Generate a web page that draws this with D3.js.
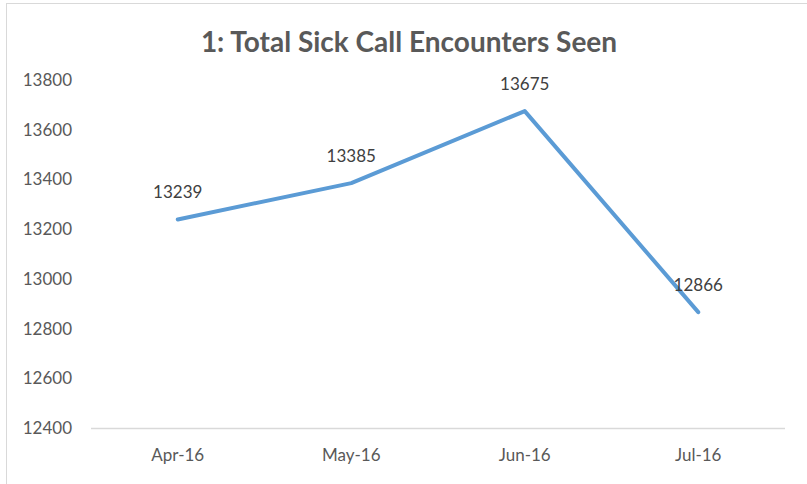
<!DOCTYPE html>
<meta charset="utf-8">
<head>
    <script type="text/javascript" src="https://d3js.org/d3.v7.min.js"></script>
    <style>
        body { margin: 0; background: #fff; }
        text { font-family: Lato, "Open Sans", sans-serif; fill: #595959; }
    </style>
    <title>Total Sick Call Encounters Seen</title>
</head>
<body>
    <script>
        // chart data
        var months = ["Apr-16", "May-16", "Jun-16", "Jul-16"];
        var encounters = [13239, 13385, 13675, 12866];
        var yTicks = [12400, 12600, 12800, 13000, 13200, 13400, 13600, 13800];

        var W = 807, H = 484;
        var margin = {top: 80, right: 22, bottom: 56, left: 91};

        var svg = d3.select("body").append("svg")
            .attr("width", W)
            .attr("height", H);

        // chart area border (left and top visible)
        svg.append("rect")
            .attr("x", 6.5).attr("y", 3.5)
            .attr("width", W + 10).attr("height", H + 10)
            .attr("fill", "none")
            .attr("stroke", "#d9d9d9");

        var x = d3.scaleBand()
            .domain(months)
            .range([margin.left, W - margin.right]);

        var y = d3.scaleLinear()
            .domain([12400, 13800])
            .range([H - margin.bottom, margin.top]);

        // title
        svg.append("text")
            .attr("x", 409).attr("y", 52)
            .attr("text-anchor", "middle")
            .style("font-size", "28px")
            .style("font-weight", "bold")
            .text("1: Total Sick Call Encounters Seen");

        // y axis labels
        svg.append("g").selectAll("text")
            .data(yTicks)
            .enter().append("text")
            .attr("x", 72)
            .attr("y", d => y(d))
            .attr("dy", "0.35em")
            .attr("text-anchor", "end")
            .style("font-size", "17px")
            .text(d => d);

        // baseline
        svg.append("line")
            .attr("x1", x.range()[0]).attr("x2", x.range()[1])
            .attr("y1", y(12400) + 0.5).attr("y2", y(12400) + 0.5)
            .attr("stroke", "#d9d9d9")
            .attr("stroke-width", 1.5);

        // x axis labels
        svg.append("g").selectAll("text")
            .data(months)
            .enter().append("text")
            .attr("x", d => x(d) + x.bandwidth() / 2)
            .attr("y", y(12400) + 33)
            .attr("text-anchor", "middle")
            .style("font-size", "17px")
            .text(d => d);

        var pts = months.map((m, i) => ({m: m, v: encounters[i]}));

        var line = d3.line()
            .x(d => x(d.m) + x.bandwidth() / 2)
            .y(d => y(d.v));

        svg.append("path")
            .datum(pts)
            .attr("d", line)
            .attr("fill", "none")
            .attr("stroke", "#5b9bd5")
            .attr("stroke-width", 4)
            .attr("stroke-linecap", "round")
            .attr("stroke-linejoin", "round");

        // data labels
        svg.append("g").selectAll("text")
            .data(pts)
            .enter().append("text")
            .attr("x", d => x(d.m) + x.bandwidth() / 2)
            .attr("y", d => y(d.v) - 21)
            .attr("text-anchor", "middle")
            .style("font-size", "17px")
            .style("fill", "#404040")
            .text(d => d.v);
    </script>
</body>
</html>
